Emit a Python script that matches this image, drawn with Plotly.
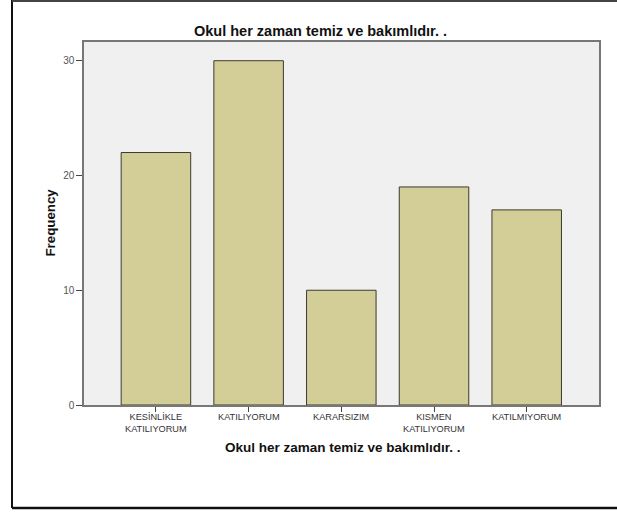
import plotly.graph_objects as go

categories = ["KESİNLİKLE<br>KATILIYORUM", "KATILIYORUM", "KARARSIZIM", "KISMEN<br>KATILIYORUM", "KATILMIYORUM"]
frequency = [22, 30, 10, 19, 17]
y_ticks = [0, 10, 20, 30]
title_text = "Okul her zaman temiz ve bakımlıdır. ."

W, H = 617, 512
L, R, T, B = 84, 18, 42, 107
pw, ph = W - L - R, H - T - B

def px_x(x):
    return (x - L) / pw

def px_y(y):
    return (H - B - y) / ph

fig = go.Figure()
fig.add_trace(go.Bar(
    x=list(range(len(categories))),
    y=frequency,
    width=0.75,
    marker=dict(color="#D3CE97", line=dict(color="#3a3a30", width=1)),
    hoverinfo="y",
))

# category labels as annotations (one text block per category, top-anchored)
label_annotations = [
    dict(text=cat, xref="x", yref="paper", x=i, y=px_y(411),
         xanchor="center", yanchor="top", showarrow=False, borderpad=0,
         font=dict(size=9.2, color="#333"))
    for i, cat in enumerate(categories)
]

fig.update_layout(
    width=W, height=H,
    margin=dict(l=L, r=R, t=T, b=B),
    paper_bgcolor="white",
    plot_bgcolor="#F0F0F0",
    showlegend=False,
    font=dict(family="Liberation Sans, Arial, sans-serif", color="#333"),
    xaxis=dict(
        range=[-0.776, 4.78],
        tickmode="array",
        tickvals=list(range(len(categories))),
        showticklabels=False,
        ticks="outside", ticklen=5, tickwidth=1, tickcolor="#444",
        showgrid=False, zeroline=False,
        showline=True, linecolor="#777", linewidth=1.5, mirror=True,
    ),
    yaxis=dict(
        range=[0, 31.63],
        tickmode="array",
        tickvals=y_ticks,
        ticks="outside", ticklen=6, tickwidth=1, tickcolor="#444",
        tickfont=dict(size=10, color="#555"),
        showgrid=False, zeroline=False,
        showline=True, linecolor="#777", linewidth=1.5, mirror=True,
    ),
    annotations=label_annotations + [
        dict(text="<b>" + title_text + "</b>", xref="paper", yref="paper",
             x=px_x(320), y=px_y(31), xanchor="center", yanchor="middle",
             showarrow=False, font=dict(size=14.5, color="#111")),
        dict(text="<b>" + title_text + "</b>", xref="paper", yref="paper",
             x=px_x(342.5), y=px_y(447), xanchor="center", yanchor="middle",
             showarrow=False, font=dict(size=13.5, color="#111")),
        dict(text="<b>Frequency</b>", xref="paper", yref="paper",
             x=px_x(50), y=px_y(222.5), xanchor="center", yanchor="middle", textangle=-90,
             showarrow=False, font=dict(size=13.3, color="#111")),
    ],
    shapes=[
        dict(type="line", xref="paper", yref="paper",
             x0=px_x(12), x1=px_x(12), y0=px_y(0), y1=px_y(508),
             line=dict(color="#111", width=2)),
        dict(type="line", xref="paper", yref="paper",
             x0=px_x(12), x1=px_x(640), y0=px_y(1), y1=px_y(1),
             line=dict(color="#444", width=2)),
        dict(type="line", xref="paper", yref="paper",
             x0=px_x(12), x1=px_x(640), y0=px_y(508), y1=px_y(508),
             line=dict(color="#111", width=2.5)),
    ],
)

fig.write_html("out.html", config={"displayModeBar": False},
               post_script="document.body.style.margin='0';document.body.style.overflow='hidden';")
